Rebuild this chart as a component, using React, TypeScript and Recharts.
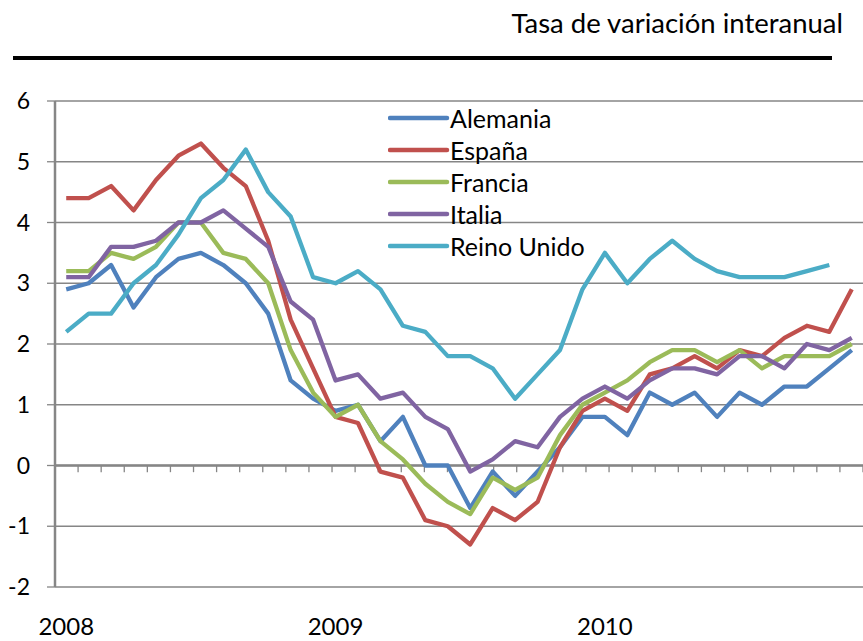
import { LineChart, Line, XAxis, YAxis, CartesianGrid, ReferenceLine, Legend } from 'recharts';

const months = [
    'ene-08', 'feb-08', 'mar-08', 'abr-08', 'may-08', 'jun-08', 'jul-08', 'ago-08', 'sep-08', 'oct-08', 'nov-08', 'dic-08',
    'ene-09', 'feb-09', 'mar-09', 'abr-09', 'may-09', 'jun-09', 'jul-09', 'ago-09', 'sep-09', 'oct-09', 'nov-09', 'dic-09',
    'ene-10', 'feb-10', 'mar-10', 'abr-10', 'may-10', 'jun-10', 'jul-10', 'ago-10', 'sep-10', 'oct-10', 'nov-10', 'dic-10',
];
const yearLabels: Record<string, string> = { 'ene-08': '2008', 'ene-09': '2009', 'ene-10': '2010' };

const alemania = [2.9, 3.0, 3.3, 2.6, 3.1, 3.4, 3.5, 3.3, 3.0, 2.5, 1.4, 1.1, 0.9, 1.0, 0.4, 0.8, 0.0, 0.0, -0.7, -0.1, -0.5, -0.1, 0.3, 0.8, 0.8, 0.5, 1.2, 1.0, 1.2, 0.8, 1.2, 1.0, 1.3, 1.3, 1.6, 1.9];
const espana = [4.4, 4.4, 4.6, 4.2, 4.7, 5.1, 5.3, 4.9, 4.6, 3.7, 2.4, 1.6, 0.8, 0.7, -0.1, -0.2, -0.9, -1.0, -1.3, -0.7, -0.9, -0.6, 0.3, 0.9, 1.1, 0.9, 1.5, 1.6, 1.8, 1.6, 1.9, 1.8, 2.1, 2.3, 2.2, 2.9];
const francia = [3.2, 3.2, 3.5, 3.4, 3.6, 4.0, 4.0, 3.5, 3.4, 3.0, 1.9, 1.2, 0.8, 1.0, 0.4, 0.1, -0.3, -0.6, -0.8, -0.2, -0.4, -0.2, 0.5, 1.0, 1.2, 1.4, 1.7, 1.9, 1.9, 1.7, 1.9, 1.6, 1.8, 1.8, 1.8, 2.0];
const italia = [3.1, 3.1, 3.6, 3.6, 3.7, 4.0, 4.0, 4.2, 3.9, 3.6, 2.7, 2.4, 1.4, 1.5, 1.1, 1.2, 0.8, 0.6, -0.1, 0.1, 0.4, 0.3, 0.8, 1.1, 1.3, 1.1, 1.4, 1.6, 1.6, 1.5, 1.8, 1.8, 1.6, 2.0, 1.9, 2.1];
const reinoUnido = [2.2, 2.5, 2.5, 3.0, 3.3, 3.8, 4.4, 4.7, 5.2, 4.5, 4.1, 3.1, 3.0, 3.2, 2.9, 2.3, 2.2, 1.8, 1.8, 1.6, 1.1, 1.5, 1.9, 2.9, 3.5, 3.0, 3.4, 3.7, 3.4, 3.2, 3.1, 3.1, 3.1, 3.2, 3.3, null];

const yTicks = [-2, -1, 0, 1, 2, 3, 4, 5, 6];

const data = months.map((m, i) => ({
    month: m,
    alemania: alemania[i],
    espana: espana[i],
    francia: francia[i],
    italia: italia[i],
    reinoUnido: reinoUnido[i],
}));

const GRID = '#868686';
const FONT = 'Lato, sans-serif';

// tick marks sit on the zero line, at the borders between months
const boundaries = Array.from({ length: months.length - 1 }, (_, k) => k + 1);

const renderLegend = (props: any) => (
    <div style={{ fontFamily: FONT }}>
        {props.payload.map((entry: any) => (
            <div key={entry.value} style={{ display: 'flex', alignItems: 'center', height: 32 }}>
                <svg width={62} height={10}>
                    <line x1={2} y1={5} x2={59} y2={5} stroke={entry.color} strokeWidth={4.5} strokeLinecap="round" />
                </svg>
                <span style={{ fontSize: 25, color: '#000', lineHeight: '32px' }}>{entry.value}</span>
            </div>
        ))}
    </div>
);

export default function App() {
    return (
        <div style={{ position: 'absolute', left: 0, top: 0, width: 863, height: 641, background: '#fff', fontFamily: FONT }}>
            <svg width={863} height={641} style={{ position: 'absolute', left: 0, top: 0 }}>
                <text x={843} y={33} textAnchor="end" fontSize={27.5} fill="#000" fontFamily={FONT}>Tasa de variación interanual</text>
                <rect x={13} y={56} width={819} height={4} fill="#000" />
            </svg>
            <div style={{ position: 'absolute', left: 0, top: 0 }}>
                <LineChart width={863} height={641} data={data} margin={{ top: 101, right: 0, bottom: 0, left: 0 }}>
                    <CartesianGrid vertical={false} stroke={GRID} strokeWidth={1.3} />
                    <XAxis
                        dataKey="month"
                        scale="band"
                        interval={0}
                        height={54}
                        tickLine={false}
                        axisLine={false}
                        tickSize={0}
                        tickMargin={31}
                        tickFormatter={(m: string) => yearLabels[m] ?? ''}
                        tick={{ fill: '#000', fontSize: 24 }}
                    />
                    <XAxis xAxisId="grid" type="number" domain={[0, months.length]} hide />
                    <YAxis
                        domain={[-2, 6]}
                        ticks={yTicks}
                        interval={0}
                        width={55}
                        tickSize={8}
                        tickMargin={17}
                        axisLine={{ stroke: GRID, strokeWidth: 2.5 }}
                        tickLine={{ stroke: GRID, strokeWidth: 1.3 }}
                        tick={{ fill: '#000', fontSize: 23 }}
                    />
                    <ReferenceLine y={0} stroke={GRID} strokeWidth={2.5} />
                    {boundaries.map((k) => (
                        <ReferenceLine
                            key={k}
                            xAxisId="grid"
                            segment={[{ x: k, y: 0 }, { x: k, y: -0.11 }]}
                            stroke={GRID}
                            strokeWidth={1.3}
                        />
                    ))}
                    <Legend
                        layout="vertical"
                        verticalAlign="middle"
                        align="center"
                        content={renderLegend}
                        wrapperStyle={{ left: 388, top: 102, width: 'auto', height: 'auto' }}
                    />
                    <Line type="linear" dataKey="alemania" name="Alemania" stroke="#4F81BD" strokeWidth={4.3} strokeLinejoin="round" dot={false} isAnimationActive={false} />
                    <Line type="linear" dataKey="espana" name="España" stroke="#C0504D" strokeWidth={4.3} strokeLinejoin="round" dot={false} isAnimationActive={false} />
                    <Line type="linear" dataKey="francia" name="Francia" stroke="#9BBB59" strokeWidth={4.3} strokeLinejoin="round" dot={false} isAnimationActive={false} />
                    <Line type="linear" dataKey="italia" name="Italia" stroke="#8064A2" strokeWidth={4.3} strokeLinejoin="round" dot={false} isAnimationActive={false} />
                    <Line type="linear" dataKey="reinoUnido" name="Reino Unido" stroke="#4BACC6" strokeWidth={4.3} strokeLinejoin="round" dot={false} isAnimationActive={false} />
                </LineChart>
            </div>
        </div>
    );
}
